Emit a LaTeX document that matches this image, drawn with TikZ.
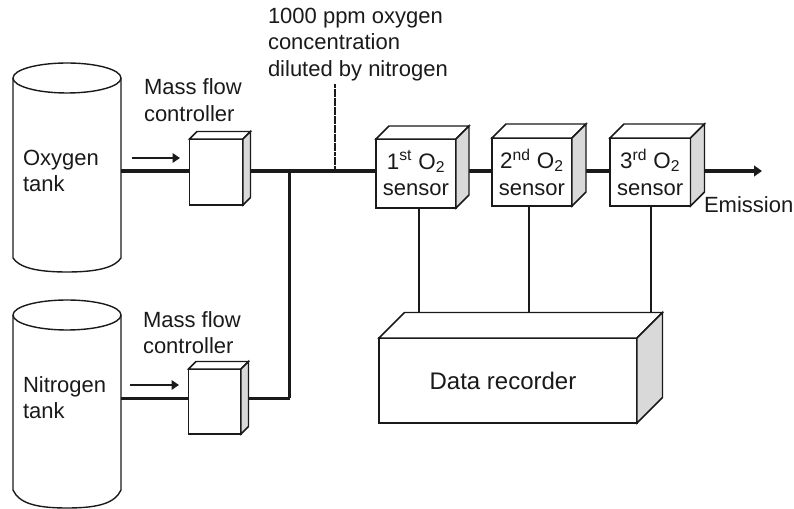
\documentclass[tikz,border=0pt]{standalone}
\usepackage{fontspec}
\setmainfont{Liberation Sans}
\usetikzlibrary{arrows.meta,calc}
\definecolor{ink}{HTML}{1A1A1A}
\definecolor{sidegray}{HTML}{D9D9D9}
\tikzset{
  x=0.75pt,y=-0.75pt,
  boxline/.style={draw=ink,line width=1.1pt,line join=miter},
  frontbox/.style={boxline,fill=white,inner sep=0pt,outer sep=0pt,align=center,text=ink},
  sidebox/.style={boxline,fill=sidegray},
  topbox/.style={boxline,fill=white},
  tankline/.style={draw=ink,line width=1.05pt},
  label/.style={inner sep=0pt,outer sep=0pt,align=left,text=ink,anchor=west},
  thickpipe/.style={draw=ink,line width=3.6pt},
  midpipe/.style={draw=ink,line width=2pt},
  thinpipe/.style={draw=ink,line width=1.8pt},
  wire/.style={draw=ink,line width=1.1pt},
  flow/.style={draw=ink,line width=1.7pt,-{Triangle[length=5.5pt,width=7pt]}},
  outflow/.style={draw=ink,line width=3.6pt,-{Triangle[length=6pt,width=8pt]}},
  probe/.style={draw=ink,line width=1pt,dash pattern=on 3pt off 0.4pt},
}
\newcommand{\cubebox}[7]{%
  \node[frontbox,minimum width={(#4-#2)*0.75pt},minimum height={(#5-#3)*0.75pt}] (#1) at ({(#2+#4)/2},{(#3+#5)/2}) {};
  \draw[topbox] (#1.north west) -- ++(#6,-#6) -- ++({#4-#2},0) -- (#1.north east) -- cycle;
  \draw[sidebox] (#1.north east) -- ++(#6,-#6) -- ++(0,{#5-#3}) -- (#1.south east) -- cycle;
  \coordinate (#1r) at ($(#1.east)+(#6,0)$);
  \node[text=ink,align=center,inner sep=0pt] (#1t) at (#1) {#7};
}
\newcommand{\tank}[4]{%
  % name, top ellipse centre y, side end y, bottom y
  \node[label,minimum width=81pt,minimum height={(#3-#2)*0.75pt},anchor=north west] (#1) at (13,#2) {};
  \draw[tankline] (#1.north west) -- (#1.south west)
     .. controls ({13+6},{#4-5}) and ({67-32},#4) .. (67,#4)
     .. controls ({67+32},#4) and ({121-6},{#4-5}) .. (#1.south east)
     -- (#1.north east);
  \draw[tankline] (67,#2) ellipse (54 and 15);
}
\begin{document}
\begin{tikzpicture}[font=\fontsize{16.5}{19.5}\selectfont]
\useasboundingbox (0,0) rectangle (794,509);
% tanks
\tank{otank}{78}{258}{272}
\tank{ntank}{315}{490}{508}
\node[label] (otext) at (23,171) {Oxygen\\[0.5pt]tank};
\node[label] (ntext) at (23,397.5) {Nitrogen\\[0pt]tank};
% named points on the pipes
\coordinate (oline) at (0,171);
\coordinate (nline) at (0,398.5);
\coordinate (junction) at (289.5,171);
\coordinate (nbend) at (289.5,398.5);
\coordinate (outend) at (762,171);
\coordinate (probetop) at (335,84);
\coordinate (probefoot) at (335,171);
% pipes
\draw[thickpipe] (otank.east |- oline) -- (190,171);
\draw[thickpipe] (243,171) -- (probefoot) -- (376,171);
\draw[thinpipe] (junction) -- (nbend);
\draw[midpipe] (ntank.east |- nline) -- (189,398.5);
\draw[midpipe] (241,398.5) -- (nbend);
\draw[probe] (probetop) -- (probefoot);
\draw[thickpipe] (460,171) -- (492,171);
\draw[thickpipe] (576,171) -- (610,171);
\draw[outflow] (700,171) -- (outend);
% controllers
\cubebox{mfca}{189.5}{139}{243}{205}{7.5}{}
\cubebox{mfcb}{188.5}{369}{241}{434}{7.5}{}
% sensors
\cubebox{sa}{376}{139}{456}{208}{13}{\fontsize{16.8}{19.5}\selectfont 1\textsuperscript{st} O\textsubscript{2}\\[0.5pt]sensor}
\cubebox{sb}{492}{138}{572}{206}{14}{\fontsize{16.8}{19.5}\selectfont 2\textsuperscript{nd} O\textsubscript{2}\\[0.5pt]sensor}
\cubebox{sc}{610}{138}{690.5}{206}{14}{\fontsize{16.8}{19.5}\selectfont 3\textsuperscript{rd} O\textsubscript{2}\\[0.5pt]sensor}
% recorder
\cubebox{rec}{379}{338}{637}{423}{25.5}{}
\node[text=ink,inner sep=0pt,font=\fontsize{18}{21}\selectfont] (rectext) at (503,381) {Data recorder};
\draw[wire] (419,208) -- (419,312);
\draw[wire] (529,206) -- (529,312);
\draw[wire] (651,206) -- (651,312);
% flow arrows
\coordinate (fa1) at (132,158);\coordinate (fa2) at (180,158);
\coordinate (fb1) at (130,385);\coordinate (fb2) at (179,385);
\draw[flow] (fa1) -- (fa2);
\draw[flow] (fb1) -- (fb2);
% labels
\node[label] (mfl1) at (144,100) {Mass flow\\[0.5pt]controller};
\node[label] (mfl2) at (143,332.5) {Mass flow\\[0.5pt]controller};
\node[label] (conc) at (268,44.5) {1000 ppm oxygen\\[0.5pt]concentration\\[0.5pt]diluted by nitrogen};
\node[label] (emis) at (704,205) {Emission};
\end{tikzpicture}
\end{document}
